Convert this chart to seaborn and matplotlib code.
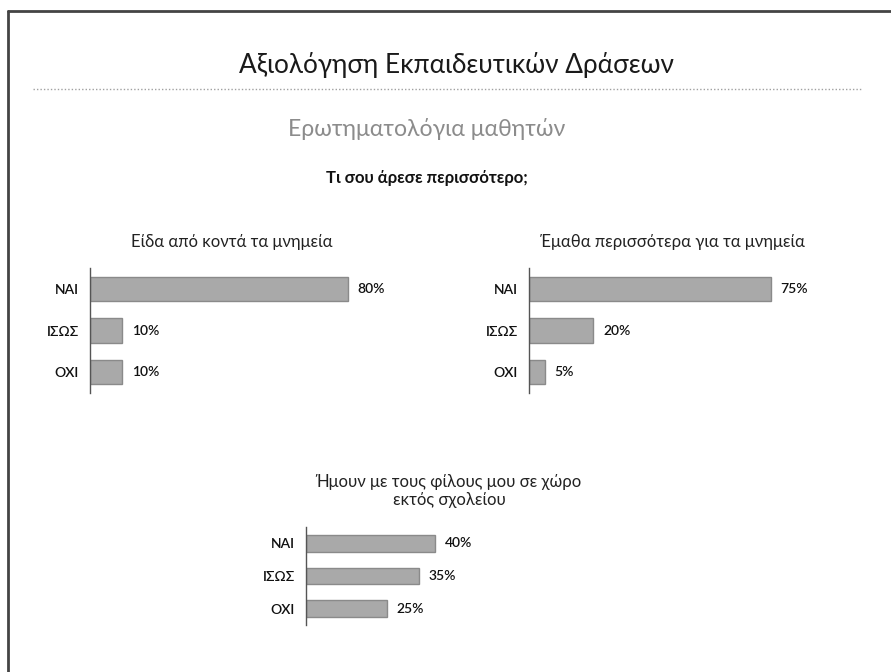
import pandas as pd
import matplotlib.pyplot as plt
import matplotlib.lines as mlines
import seaborn as sns

# ---------------------------------------------------------
# Daten
# ---------------------------------------------------------
answers = ["ΝΑΙ", "ΙΣΩΣ", "ΟΧΙ"]

title_1 = "Είδα από κοντά τα μνημεία"
values_1 = [80, 10, 10]

title_2 = "Έμαθα περισσότερα για τα μνημεία"
values_2 = [75, 20, 5]

title_3 = "Ήμουν με τους φίλους μου σε χώρο\nεκτός σχολείου"
values_3 = [40, 35, 25]

main_title = "Αξιολόγηση Εκπαιδευτικών Δράσεων"
sub_title = "Ερωτηματολόγια μαθητών"
question = "Τι σου άρεσε περισσότερο;"

# ---------------------------------------------------------
# Stil
# ---------------------------------------------------------
sns.set_theme(style="white")
plt.rcParams["font.family"] = ["Lato", "DejaVu Sans"]

W, H = 891, 672
bar_color = "#a9a9a9"
edge_color = "#8a8a8a"

fig = plt.figure(figsize=(W / 100, H / 100), dpi=100)


def fx(px):
    return px / W


def fy(py):
    return 1 - py / H


# Rahmen
fig.add_artist(mlines.Line2D([fx(8), fx(8)], [0, fy(11)],
                             color="#444444", lw=2, transform=fig.transFigure))
fig.add_artist(mlines.Line2D([fx(8), 1], [fy(11), fy(11)],
                             color="#444444", lw=2, transform=fig.transFigure))

# Kopfbereich
fig.text(fx(456), fy(65), main_title, ha="center", va="center",
         fontsize=18.8, color="#1a1a1a")
fig.add_artist(mlines.Line2D([fx(33), fx(862)], [fy(89), fy(89)],
                             color="#a0a0a0", lw=1, ls=(0, (1, 1.5)),
                             transform=fig.transFigure))
fig.text(fx(427), fy(129), sub_title, ha="center", va="center",
         fontsize=16.6, color="#8c8c8c")
fig.text(fx(427), fy(178), question, ha="center", va="center",
         fontsize=12, fontweight="bold", color="#111111")


def draw_panel(rect_px, values, title, bar_width, title_xy):
    left, top, width, height = rect_px
    ax = fig.add_axes([fx(left), fy(top + height), width / W, height / H])
    df = pd.DataFrame({"answer": answers, "value": values})
    sns.barplot(data=df, x="value", y="answer", orient="h", ax=ax,
                color=bar_color, edgecolor=edge_color, linewidth=1,
                width=bar_width, saturation=1)
    ax.set_xlim(0, 100)
    ax.set_ylim(2.5, -0.5)
    ax.set_xlabel("")
    ax.set_ylabel("")
    ax.set_xticks([])
    for side in ["top", "right", "bottom"]:
        ax.spines[side].set_visible(False)
    ax.spines["left"].set_color("#555555")
    ax.spines["left"].set_linewidth(1)
    ax.tick_params(axis="y", length=0, pad=8, labelsize=10, labelcolor="#111111")
    for lab in ax.get_yticklabels():
        lab.set_fontweight("semibold")
    for i, v in enumerate(values):
        ax.text(v + 3, i, f"{v}%", va="center", ha="left",
                fontsize=10, fontweight="semibold", color="#111111")
    fig.text(fx(title_xy[0]), fy(title_xy[1]), title, ha="center", va="center",
             fontsize=12, color="#222222", linespacing=1.15)
    return ax


# Panel 1
draw_panel((90, 268, 322, 125), values_1, title_1, 0.58, (232, 242))
# Panel 2
draw_panel((529, 268, 322, 125), values_2, title_2, 0.58, (672, 242))
# Panel 3
draw_panel((306, 527, 322, 98), values_3, title_3, 0.52, (449, 491))

plt.savefig("out.png", dpi=100, facecolor="white")
print("[INFO] Diagramm gespeichert.")
